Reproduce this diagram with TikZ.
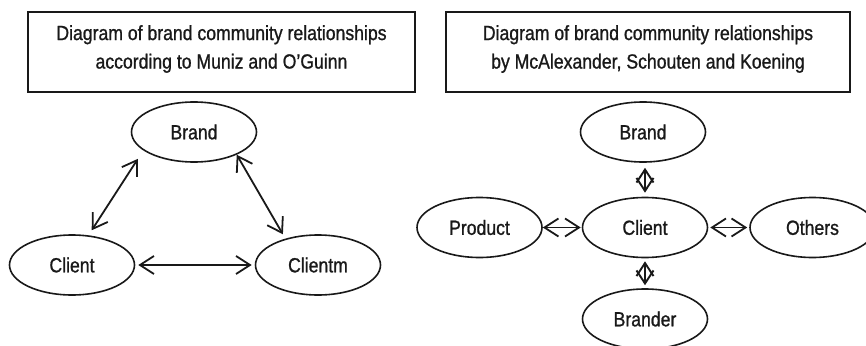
\documentclass[tikz,border=0pt]{standalone}
\usepackage{fontspec}
\setmainfont{Liberation Sans}[FakeStretch=0.86,FakeBold=1]
\usetikzlibrary{arrows.meta,shapes.geometric}
\definecolor{ink}{gray}{0.1}
\begin{document}
\begin{tikzpicture}[x=1pt,y=-1pt,
  every node/.style={text=ink, font=\fontsize{20.5}{28.5}\selectfont},
  oval/.style={draw=ink, line width=1.6pt, ellipse, minimum width=125pt, minimum height=60pt, inner sep=0pt},
  frame/.style={draw=ink, line width=1.6pt},
  dblarrow/.style={draw=ink, line width=1.8pt, {Straight Barb[length=14pt,width=18pt]}-{Straight Barb[length=14pt,width=18pt]}},
  diamarrow/.style={draw=ink, line width=1.9pt, {Straight Barb[length=13pt,width=17pt]}-{Straight Barb[length=13pt,width=17pt]}}
]
\useasboundingbox (0,0) rectangle (866,345);
% left
\draw[frame] (28,12) rectangle (415,92);
\node[align=center, inner sep=0pt] (tl) at (221.5,49) {Diagram of brand community relationships\\according to Muniz and O’Guinn};
\node[oval] (bl) at (194,132) {Brand};
\node[oval] (cl) at (72,265) {Client};
\node[oval] (cm) at (318,265) {Clientm};
\draw[dblarrow, shorten <=10pt, shorten >=6pt] (bl.200) -- (cl.61);
\draw[dblarrow, shorten >=5pt] (bl.-28) -- (cm.141);
\draw[dblarrow, shorten <=3pt, shorten >=3pt] (cl) -- (cm);
% right
\draw[frame] (446,12) rectangle (850,92);
\node[align=center, inner sep=0pt] (tr) at (648,49) {Diagram of brand community relationships\\by McAlexander, Schouten and Koening};
\node[oval] (br) at (643,132) {Brand};
\node[oval] (cr) at (645,227.5) {Client};
\node[oval] (pr) at (479.5,227.5) {Product};
\node[oval] (or) at (812.5,227.5) {Others};
\node[oval] (bd) at (645,319) {Brander};
\draw[diamarrow, shorten <=5pt, shorten >=4pt] (br.south -| cr.north) -- (cr.north);
\draw[diamarrow, shorten <=3pt, shorten >=3pt] (cr.south) -- (bd.north);
\draw[dblarrow, shorten >=1pt] (pr.east) -- (cr.west);
\draw[dblarrow, shorten <=2pt, shorten >=2pt] (cr.east) -- (or.west);
\end{tikzpicture}
\end{document}
